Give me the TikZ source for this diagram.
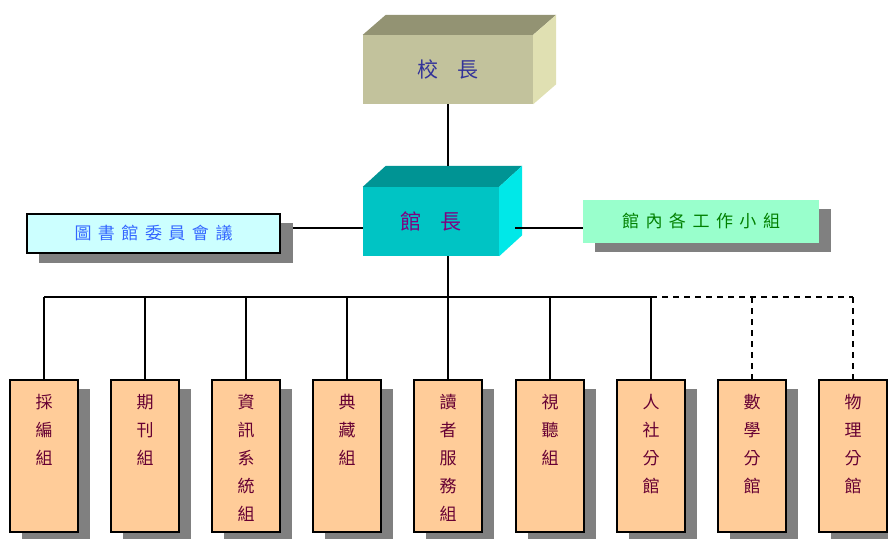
\documentclass[tikz,border=0pt]{standalone}
\usepackage{fontspec}
\newfontfamily\cjk{Noto Sans CJK TC}
\usetikzlibrary{calc}
\definecolor{khakiF}{HTML}{C2C29C}
\definecolor{khakiT}{HTML}{939373}
\definecolor{khakiR}{HTML}{E0E0B2}
\definecolor{cyanF}{HTML}{00C4C4}
\definecolor{cyanT}{HTML}{009494}
\definecolor{cyanR}{HTML}{00E8E8}
\definecolor{peach}{HTML}{FFCC99}
\definecolor{lightcyan}{HTML}{CCFFFF}
\definecolor{mint}{HTML}{99FFCC}
\definecolor{shadowgray}{HTML}{808080}
\definecolor{maroontext}{HTML}{660033}
\definecolor{bluetext}{HTML}{3366FF}
\definecolor{greentext}{HTML}{008000}
\definecolor{navytext}{HTML}{333399}
\definecolor{purpletext}{HTML}{800080}
\newcommand{\gapA}{\hspace{20pt}}
\newcommand{\gapB}{\hspace{6.5pt}}
\begin{document}
\begin{tikzpicture}[x=1pt,y=-1pt,
  conn/.style={line width=1.3pt,black},
  dconn/.style={conn,dash pattern=on 6pt off 5pt},
  cube/.style={inner sep=0pt,minimum width=#1,font=\cjk\fontsize{21}{21}\selectfont},
  flatbox/.style={inner sep=0pt,font=\cjk\fontsize{17}{17}\selectfont},
  unitbox/.style={draw=black,line width=1.3pt,fill=peach,inner sep=0pt,minimum width=68pt,minimum height=152pt},
  unitlabel/.style={inner sep=0pt,align=center,text=maroontext,font=\cjk\fontsize{17}{28}\selectfont},
  shadow/.style={fill=shadowgray}
]
\useasboundingbox[fill=white] (0,0) rectangle (888,538);

% ---------- top: 校長 ----------
\node[cube=170pt,minimum height=69pt,fill=khakiF,text=navytext] (xz) at (448,69.5) {校\gapA 長};
\fill[khakiT] (xz.north west) -- ++(23,-20) -- ($(xz.north east)+(23,-20)$) -- (xz.north east) -- cycle;
\fill[khakiR] (xz.north east) -- ++(23,-20) -- ($(xz.south east)+(23,-20)$) -- (xz.south east) -- cycle;

% ---------- middle: 館長 ----------
\node[cube=136pt,minimum height=69pt,fill=cyanF,text=purpletext] (gz) at (431,221.5) {館\gapA 長};
\fill[cyanT] (gz.north west) -- ++(23,-21) -- ($(gz.north east)+(23,-21)$) -- (gz.north east) -- cycle;
\fill[cyanR] (gz.north east) -- ++(23,-21) -- ($(gz.south east)+(23,-21)$) -- (gz.south east) -- cycle;

% ---------- side boxes ----------
\fill[shadow] (39,223) rectangle (293,263);
\node[flatbox,draw=black,line width=1.2pt,fill=lightcyan,text=bluetext,minimum width=253pt,minimum height=39pt] (wy) at (153.5,233.5)
  {圖\gapB 書\gapB 館\gapB 委\gapB 員\gapB 會\gapB 議};
\fill[shadow] (595,209) rectangle (831,252);
\node[flatbox,fill=mint,text=greentext,minimum width=236pt,minimum height=43pt] (gx) at (701,221.5)
  {館\gapB 內\gapB 各\gapB 工\gapB 作\gapB 小\gapB 組};

% ---------- connectors (top) ----------
\coordinate (gztop) at (448,166);
\coordinate (gzbot) at (448,256);
\coordinate (bus) at (448,297);
\coordinate (wyend) at (293,228);
\coordinate (gxstart) at (515,228);
\draw[conn] (xz.south) -- (gztop);
\draw[conn] (wyend) -- (wyend -| gz.west);
\draw[conn] (gxstart) -- (gxstart -| gx.west);
\draw[conn] (gzbot) -- (bus);

% ---------- bottom boxes ----------
\foreach \n/\x/\t in {
  b1/44/{採\\編\\組},
  b2/145/{期\\刊\\組},
  b3/246/{資\\訊\\系\\統\\組},
  b4/347/{典\\藏\\組},
  b5/448/{讀\\者\\服\\務\\組},
  b6/550/{視\\聽\\組},
  b7/651/{人\\社\\分\\館},
  b8/752/{數\\學\\分\\館},
  b9/853/{物\\理\\分\\館}} {
  \fill[shadow] (\x-22,389) rectangle (\x+46,545);
  \node[unitbox] (\n) at (\x,456) {};
  \node[unitlabel,anchor=north] (\n t) at ($(\n.north)+(0,15)$) {\t};
}

% ---------- bus ----------
\draw[conn] (b1.north |- bus) -- (b7.north |- bus);
\draw[dconn] (b7.north |- bus) -- (b9.north |- bus);
\foreach \n in {b1,b2,b3,b4,b5,b6,b7} \draw[conn] (\n.north |- bus) -- (\n.north);
\foreach \n in {b8,b9} \draw[dconn] (\n.north |- bus) -- (\n.north);
\end{tikzpicture}
\end{document}
